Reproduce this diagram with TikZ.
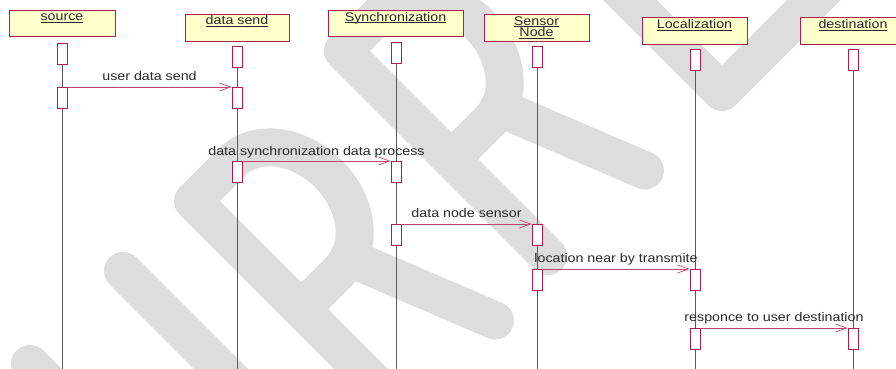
\documentclass[tikz,border=0pt]{standalone}
\usepackage{fontspec}
\setmainfont{Liberation Sans}[FakeStretch=1.14]
\usetikzlibrary{arrows.meta}
\definecolor{crim}{RGB}{172,30,78}
\definecolor{msg}{RGB}{190,70,110}
\definecolor{hdr}{RGB}{255,255,204}
\definecolor{wmk}{RGB}{221,221,221}
\definecolor{txt}{RGB}{40,40,40}
\definecolor{life}{RGB}{90,90,90}
\newcommand{\ulx}[1]{\setbox0\hbox{#1}\rlap{\rule[-1.8pt]{\wd0}{0.6pt}}\box0}
\pgfdeclarelayer{bg}
\pgfdeclarelayer{life}
\pgfsetlayers{bg,life,main}
\begin{document}
\begin{tikzpicture}[x=1pt, y=-1pt,
  font=\fontsize{12.5}{11.5}\selectfont,
  hdrbox/.style={draw=crim, fill=hdr, line width=0.9pt, inner sep=0pt, anchor=north west},
  actbox/.style={draw=crim, fill=white, line width=0.9pt, minimum width=10pt, minimum height=20.5pt, inner sep=0pt, anchor=north},
  msgline/.style={draw=msg, line width=0.7pt, -{Straight Barb[length=11pt, width=8pt, line width=0.7pt]}},
  lifeln/.style={draw=life, line width=0.8pt},
  wm/.style={draw=wmk, line width=38pt, line cap=round, line join=round},
  lbl/.style={anchor=base, inner sep=0pt, text=txt}]
\useasboundingbox (0,0) rectangle (896,368);

% header boxes
\node[hdrbox, minimum width=106pt, minimum height=26pt] (h1) at (9,10) {};
\node[hdrbox, minimum width=104pt, minimum height=27pt] (h2) at (185,14) {};
\node[hdrbox, minimum width=135pt, minimum height=26pt] (h3) at (328,10) {};
\node[hdrbox, minimum width=105pt, minimum height=27pt] (h4) at (484,14) {};
\node[hdrbox, minimum width=105pt, minimum height=27pt] (h5) at (642,17) {};
\node[hdrbox, minimum width=106pt, minimum height=27pt] (h6) at (800,17) {};

\node[lbl] (t1) at (62,20.5) {\ulx{source}};
\node[lbl] (t2) at (237,24.5) {\ulx{data send}};
\node[lbl] (t3) at (395.5,21) {\ulx{Synchronization}};
\node[lbl] (t4a) at (536.5,25) {\ulx{Sensor}};
\node[lbl] (t4b) at (536.5,36.5) {\ulx{Node}};
\node[lbl] (t5) at (694.5,28.5) {\ulx{Localization}};
\node[lbl] (t6) at (853,28.5) {\ulx{destination}};

% activation boxes
\node[actbox] (a11) at (62,43) {};
\node[actbox] (a12) at (62,87) {};
\node[actbox] (a21) at (237,46) {};
\node[actbox] (a22) at (237,87) {};
\node[actbox] (a23) at (237,161) {};
\node[actbox] (a31) at (396,42) {};
\node[actbox] (a32) at (396,161) {};
\node[actbox] (a33) at (396,224) {};
\node[actbox] (a41) at (537,46) {};
\node[actbox] (a42) at (537,224) {};
\node[actbox] (a43) at (537,269) {};
\node[actbox] (a51) at (695,49) {};
\node[actbox] (a52) at (695,269) {};
\node[actbox] (a53) at (695,328) {};
\node[actbox] (a61) at (853,49) {};
\node[actbox] (a62) at (853,328) {};

% lifeline ends
\coordinate (e1) at (62,372);
\coordinate (e2) at (237,372);
\coordinate (e3) at (396,372);
\coordinate (e4) at (537,372);
\coordinate (e5) at (695,372);
\coordinate (e6) at (853,372);

% messages
\draw[msgline] (a12.north east) -- (a22.north west);
\draw[msgline] (a23.north east) -- (a32.north west);
\draw[msgline] (a33.north east) -- (a42.north west);
\draw[msgline] (a43.north east) -- (a52.north west);
\draw[msgline] (a53.north east) -- (a62.north west);

\node[lbl] (m1) at (149.5,80) {user data send};
\node[lbl] (m2) at (316.5,155) {data synchronization data process};
\node[lbl] (m3) at (466.5,217) {data node sensor};
\node[lbl] (m4) at (616,262) {location near by transmite};
\node[lbl] (m5) at (774,321.5) {responce to user destination};

\begin{pgfonlayer}{life}
\draw[lifeln] (a11.south) -- (e1);
\draw[lifeln] (a21.south) -- (e2);
\draw[lifeln] (a31.south) -- (e3);
\draw[lifeln] (a41.south) -- (e4);
\draw[lifeln] (a51.south) -- (e5);
\draw[lifeln] (a61.south) -- (e6);
\end{pgfonlayer}

\begin{pgfonlayer}{bg}
\fill[white] (0,0) rectangle (896,368);
% watermark
\begin{scope}[shift={(193,201)}, x={(0.7071pt,-0.7071pt)}, y={(0.7071pt,0.7071pt)}]
  \draw[wm] (290,0) -- (0,0) -- (0,55) arc[start angle=180, end angle=0, x radius=76.5, y radius=60] -- (153,0);
  \draw[wm] (150,70) -- (298,129);
\end{scope}
\begin{scope}[shift={(343,51)}, x={(0.7071pt,-0.7071pt)}, y={(0.7071pt,0.7071pt)}]
  \draw[wm] (290,0) -- (0,0) -- (0,55) arc[start angle=180, end angle=0, x radius=76.5, y radius=60] -- (153,0);
  \draw[wm] (150,70) -- (298,129);
\end{scope}
\begin{scope}[shift={(722,92)}, x={(0.7071pt,-0.7071pt)}, y={(0.7071pt,0.7071pt)}]
  \draw[wm] (-200,0) -- (0,0) -- (0,200);
\end{scope}
\begin{scope}[shift={(30,364)}, x={(0.7071pt,-0.7071pt)}, y={(0.7071pt,0.7071pt)}]
  \draw[wm] (0,0) -- (200,0);
\end{scope}
\begin{scope}[shift={(123,271)}, x={(0.7071pt,-0.7071pt)}, y={(0.7071pt,0.7071pt)}]
  \draw[wm] (0,0) -- (200,0);
\end{scope}
\end{pgfonlayer}
\end{tikzpicture}
\end{document}
